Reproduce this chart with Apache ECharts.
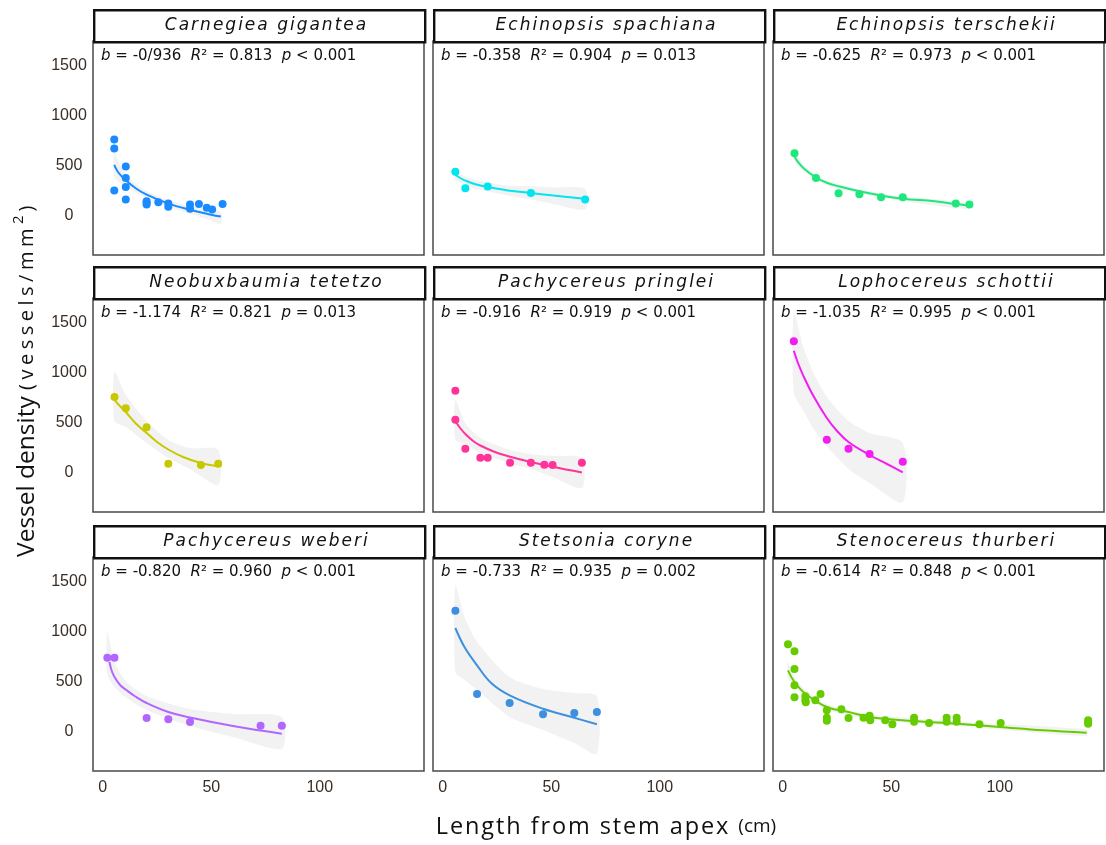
<!DOCTYPE html>
<html>
<head>
<meta charset="utf-8">
<script src="https://cdn.jsdelivr.net/npm/echarts@6/dist/echarts.min.js"></script>
<style>html,body{margin:0;padding:0;background:#fff;}#c{width:1106px;height:845px;}</style>
</head>
<body>
<div id="c"></div>
<script>
// ---------- DATA ----------
const species = ['Carnegiea gigantea','Echinopsis spachiana','Echinopsis terschekii',
  'Neobuxbaumia tetetzo','Pachycereus pringlei','Lophocereus schottii',
  'Pachycereus weberi','Stetsonia coryne','Stenocereus thurberi'];
const bValues = ['-0/936','-0.358','-0.625','-1.174','-0.916','-1.035','-0.820','-0.733','-0.614'];
const r2Values = ['0.813','0.904','0.973','0.821','0.919','0.995','0.960','0.935','0.848'];
const pValues = ['< 0.001','= 0.013','< 0.001','= 0.013','< 0.001','< 0.001','< 0.001','= 0.002','< 0.001'];
const xTickLabels = [0, 50, 100];
const yTickLabels = [0, 500, 1000, 1500];

// points [length cm, density]
const carnegieaPts = [[5.3,765],[5.3,676],[5.3,254],[10.6,495],[10.6,380],[10.6,291],[10.6,165],[20.2,148],[20.2,116],[20.2,130],[25.6,138],[30.2,126],[30.2,93],[40.2,116],[40.2,73],[44.3,119],[47.9,83],[50.4,66],[55.2,119]];
const carnegieaFit = [[5.3,511],[7,440],[10,370],[15,280],[20,216],[30,126],[40,63],[50,13],[54.4,-6]];
const carnegieaBand = [[5.3,396,643],[8,330,510],[10,305,435],[15,235,325],[20,180,252],[30,92,160],[40,25,100],[50,-45,70],[54.4,-82,34]];

const spachianaPts = [[5.8,442],[10.4,277],[20.7,294],[40.6,231],[65.6,165]];
const spachianaFit = [[5.8,412],[8,380],[10.4,354],[15,318],[20.7,290],[30,255],[40.6,230],[50,207],[65.6,172]];
const spachianaBand = [[5.8,365,460],[8,335,420],[10.4,310,395],[15,275,360],[20.7,247,336],[30,205,305],[40.6,165,297],[50,125,285],[65.6,66,271]];

const terschekiiPts = [[5.4,627],[15.3,380],[25.7,228],[35.3,218],[45.3,188],[55.3,188],[79.7,126],[86,116]];
const terschekiiFit = [[5.4,594],[7,540],[10,470],[15.3,385],[20,335],[25.7,297],[35.3,247],[45.3,205],[55.3,172],[70,148],[79.7,120],[86,102]];
const terschekiiBand = [[5.4,550,640],[10,440,500],[20,310,360],[35.3,225,270],[55.3,150,195],[86,70,130]];

const tetetzoPts = [[5.4,760],[10.6,647],[20.2,457],[30.2,93],[45.2,80],[53.2,93]];
const tetetzoFit = [[5.4,733],[7,690],[10.6,610],[15,500],[20.2,400],[25,310],[30.2,235],[37,160],[45.2,100],[53.2,67]];
const tetetzoBand = [[5.4,520,1010],[10.6,460,780],[20.2,300,520],[30.2,150,330],[40,40,250],[53.2,-117,233]];

const pringleiPts = [[5.8,823],[5.8,533],[10.4,243],[17.3,153],[20.7,153],[31,103],[40.6,103],[46.8,83],[50.6,80],[64.1,103]];
const pringleiFit = [[5.8,517],[8,450],[10.4,390],[14,320],[17.3,275],[24,210],[31,163],[40.6,110],[50.6,62],[64.1,5]];
const pringleiBand = [[5.8,333,733],[10.4,290,500],[17.3,200,350],[31,100,230],[40.6,40,190],[50.6,-40,170],[64.1,-150,150]];

const schottiiPts = [[5.1,1317],[20.3,333],[30.3,243],[40,190],[55.3,113]];
const schottiiFit = [[5.1,1223],[7,1100],[9.6,967],[14.2,767],[20.3,550],[25,420],[30.3,310],[40,180],[48,90],[55.3,7]];
const schottiiBand = [[5.1,800,1600],[9.6,620,1250],[14.2,440,1000],[20.3,267,760],[30.3,40,520],[40,-100,400],[55.3,-293,300]];

const weberiPts = [[2.1,743],[5.4,743],[20.2,140],[30.2,127],[40.2,100],[72.7,63],[82.5,63]];
const weberiFit = [[3.1,700],[4,620],[5.4,550],[8,470],[11,417],[15,355],[20.2,290],[30.2,200],[40.2,145],[60,60],[82.5,-17]];
const weberiBand = [[2.1,583,1000],[5.4,450,700],[11,340,500],[20.2,220,360],[40.2,60,230],[60,-50,180],[82.5,-167,150]];

const corynePts = [[5.8,1213],[15.8,380],[30.8,290],[46.2,177],[60.6,190],[71,200]];
const coryneFit = [[5.8,1040],[10,850],[15.8,667],[22.3,490],[30.8,367],[46.2,233],[60.6,143],[71,77]];
const coryneBand = [[5.8,600,1467],[10,520,1150],[15.8,420,900],[30.8,150,550],[46.2,20,430],[60.6,-110,390],[71,-217,357]];

const thurberiPts = [[2.4,877],[5.4,807],[5.4,630],[5.4,467],[5.4,347],[10.4,357],[10.4,317],[10.6,297],[15,317],[17.4,380],[20.3,217],[20.3,143],[20.3,113],[27,227],[30.3,140],[37.2,143],[40,163],[40.3,117],[47.2,117],[50.5,77],[60.5,143],[60.5,103],[67.4,90],[75.5,143],[75.5,103],[80.1,143],[80.1,103],[90.6,77],[100.4,90],[140.7,117],[140.7,83],[140.7,100]];
const thurberiFit = [[2.4,617],[5.4,500],[10.4,383],[20.3,250],[30.3,200],[40,150],[60,110],[80,83],[100,50],[120,17],[140,-7]];
const thurberiBand = [[2.4,540,700],[5.4,450,550],[10.4,350,420],[20.3,225,280],[40,125,175],[80,60,105],[140,-40,25]];

// ---------- STYLE / LAYOUT ----------
const colors = ['#1a8bff','#00e5ef','#1ee87c','#c8c800','#ff3399','#f21df2','#b266ff','#3d8fe0','#66cc00'];
const allPts = [carnegieaPts,spachianaPts,terschekiiPts,tetetzoPts,pringleiPts,schottiiPts,weberiPts,corynePts,thurberiPts];
const allFit = [carnegieaFit,spachianaFit,terschekiiFit,tetetzoFit,pringleiFit,schottiiFit,weberiFit,coryneFit,thurberiFit];
const allBand = [carnegieaBand,spachianaBand,terschekiiBand,tetetzoBand,pringleiBand,schottiiBand,weberiBand,coryneBand,thurberiBand];

const colLeft = [93, 433, 773];
const rowTop = [41, 298, 557];
const W = 331, H = 214, HEAD = 32;

// letter-spaced rich text: one token per character
function spaced(str, tok) {
  return str.split('').map(ch => '{' + tok + '|' + ch + '}').join('');
}

const chart = echarts.init(document.getElementById('c'), null, {renderer: 'canvas'});
const grid = [], xAxis = [], yAxis = [], series = [], graphic = [];
const tickFont = {fontFamily: 'Liberation Sans', fontSize: 16, color: '#3a2d24'};

for (let i = 0; i < 9; i++) {
  const r = Math.floor(i / 3), c = i % 3;
  const L = colLeft[c], T = rowTop[r];
  grid.push({left: L, top: T, width: W, height: H, show: true, borderColor: '#4a4a4a', borderWidth: 1.5, backgroundColor: '#fff'});
  xAxis.push({gridIndex: i, type: 'value', min: -4.5, max: 148,
    axisLine: {show: false}, axisTick: {show: false}, splitLine: {show: false},
    axisLabel: Object.assign({show: r === 2, customValues: xTickLabels, margin: 9,
      formatter: v => String(v)}, tickFont)});
  yAxis.push({gridIndex: i, type: 'value', min: -390, max: 1750,
    axisLine: {show: false}, axisTick: {show: false}, splitLine: {show: false},
    axisLabel: Object.assign({show: c === 0, customValues: yTickLabels, margin: 24, align: 'center',
      formatter: v => String(v)}, tickFont)});
  const band = allBand[i];
  series.push({type: 'custom', xAxisIndex: i, yAxisIndex: i, silent: true, clip: true, z: 1,
    data: band.map(d => d[0]),
    renderItem: (params, api) => {
      if (params.dataIndex !== 0) return null;
      const up = band.map(d => api.coord([d[0], d[2]]));
      const lo = band.slice().reverse().map(d => api.coord([d[0], d[1]]));
      return {type: 'polygon', shape: {points: up.concat(lo), smooth: 0.25},
        style: {fill: 'rgba(205,205,205,0.25)', stroke: null}};
    }});
  series.push({type: 'line', xAxisIndex: i, yAxisIndex: i, data: allFit[i], smooth: 0.4,
    showSymbol: false, symbol: 'none', z: 3, lineStyle: {color: colors[i], width: 2}, silent: true});
  series.push({type: 'scatter', xAxisIndex: i, yAxisIndex: i, data: allPts[i], symbolSize: 8, z: 4,
    itemStyle: {color: colors[i], opacity: 1}, silent: true});
  // header box
  graphic.push({type: 'rect', left: L, top: T - HEAD, z: 10,
    shape: {x: 0, y: 0, width: W, height: HEAD},
    style: {fill: '#fff', stroke: '#111', lineWidth: 2.4}});
  graphic.push({type: 'text', x: L + W / 2 + 8, y: T - HEAD / 2 + 1, z: 11,
    style: {text: spaced(species[i], 'h'), fontFamily: 'DejaVu Sans', fontStyle: 'italic', fontSize: 17,
      fill: '#111', align: 'center', verticalAlign: 'middle',
      rich: {h: {fontFamily: 'DejaVu Sans', fontStyle: 'italic', fontSize: 17, fill: '#111', padding: [0, 2, 0, 0]}}}});
  // annotation
  const base = {fontFamily: 'DejaVu Sans', fontSize: 15, fill: '#111'};
  graphic.push({type: 'text', x: L + 8, y: T + 15, z: 11,
    style: {text: '{i|b}{n| = ' + bValues[i] + '  }{i|R}{n|² = ' + r2Values[i] + '  }{i|p}{n| ' + pValues[i] + '}',
      verticalAlign: 'middle', align: 'left', fontFamily: 'DejaVu Sans', fontSize: 15, fill: '#111',
      rich: {i: Object.assign({fontStyle: 'italic'}, base), n: Object.assign({}, base)}}});
}

graphic.push({type: 'text', x: 27, y: 379, rotation: Math.PI / 2, z: 11,
  style: {text: '{a|Vessel density }' + spaced('(vessels/mm', 'b') + '{s|2}{b|)}', align: 'center', verticalAlign: 'middle',
    fontFamily: 'Open Sans', fontSize: 22, fill: '#111',
    rich: {a: {fontFamily: 'Open Sans', fontSize: 24.5, fill: '#111'},
           b: {fontFamily: 'Open Sans', fontSize: 20, fill: '#111', padding: [0, 4.5, 0, 0]},
           s: {fontFamily: 'Open Sans', fontSize: 15, fill: '#111', padding: [0, 4, 16, 0]}}}});
graphic.push({type: 'text', x: 606, y: 827, z: 11,
  style: {text: spaced('Length from stem apex ', 'a') + '{b|(cm)}', align: 'center', verticalAlign: 'middle',
    fontFamily: 'Open Sans', fontSize: 22, fill: '#111',
    rich: {a: {fontFamily: 'Open Sans', fontSize: 23.5, fill: '#111', padding: [0, 1.9, 0, 0]},
           b: {fontFamily: 'Open Sans', fontSize: 19, fill: '#111'}}}});

chart.setOption({animation: false, backgroundColor: '#fff', grid, xAxis, yAxis, series, graphic});
</script>
</body>
</html>
